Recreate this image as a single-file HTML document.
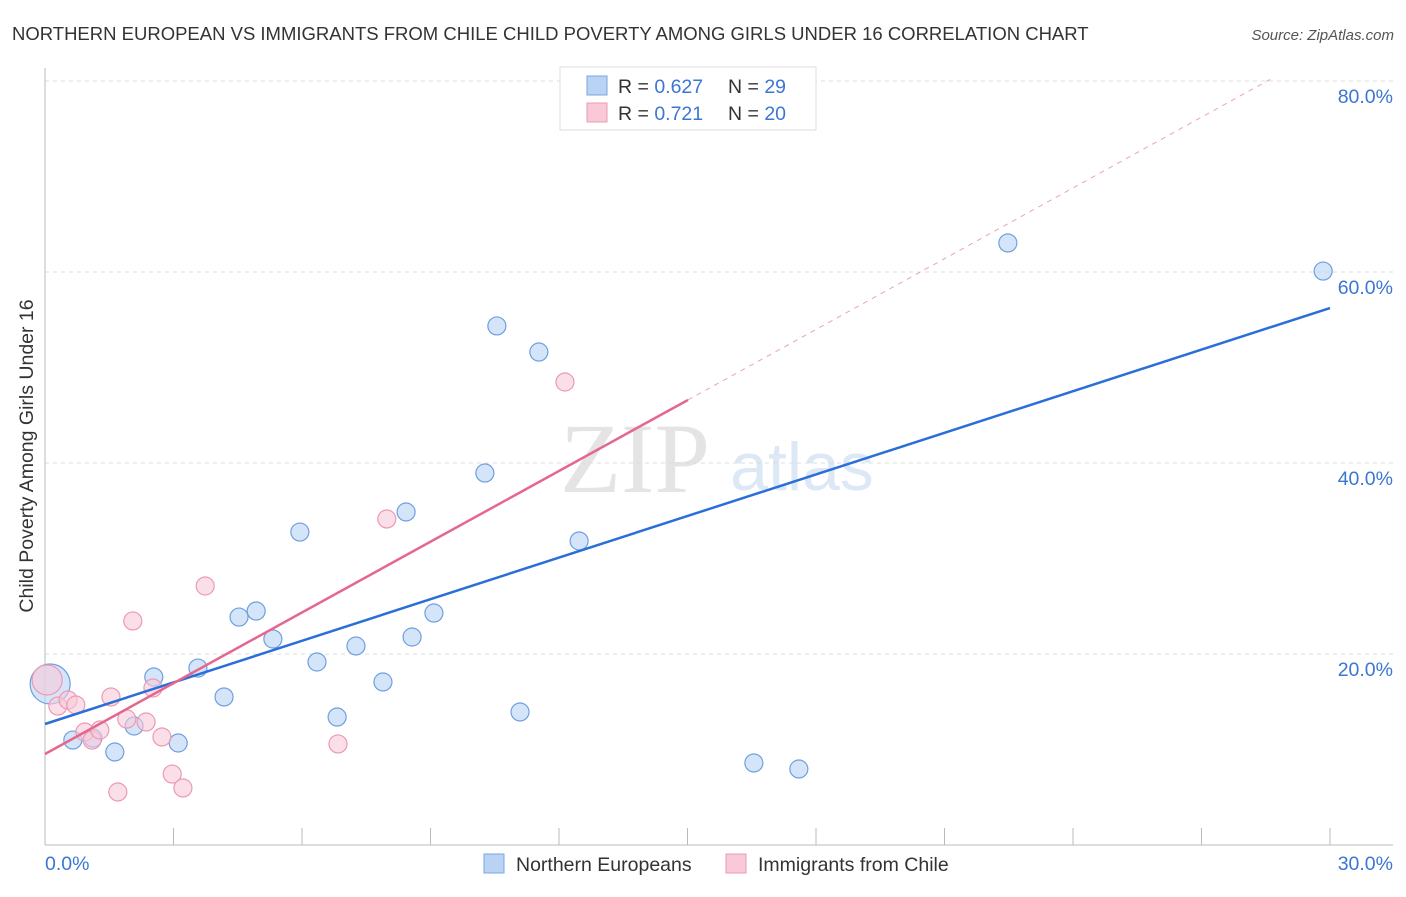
<!DOCTYPE html>
<html><head><meta charset="utf-8"><style>
body{margin:0;background:#fff;font-family:"Liberation Sans",sans-serif;}
</style></head><body>
<svg width="1406" height="892" id="chart" font-family="Liberation Sans, sans-serif">
<text x="12" y="40" font-size="18.5" fill="#333">NORTHERN EUROPEAN VS IMMIGRANTS FROM CHILE CHILD POVERTY AMONG GIRLS UNDER 16 CORRELATION CHART</text>
<text x="1394" y="40" font-size="15" fill="#555" text-anchor="end" font-style="italic">Source: ZipAtlas.com</text>
<text x="635" y="492" font-size="100" fill="#e4e4e4" style="font-family:'Liberation Serif',serif" text-anchor="middle">ZIP</text>
<text x="802" y="490" font-size="68" fill="#dce8f5" text-anchor="middle">atlas</text>
<text transform="translate(33,456) rotate(-90)" font-size="19.5" fill="#333" text-anchor="middle">Child Poverty Among Girls Under 16</text>
<g id="grid"></g><g id="axes"></g><g id="lines"></g><g id="pts"></g>
<g>
<rect x="560" y="67" width="256" height="63" fill="#fff" stroke="#ddd"/>
<rect x="587" y="76" width="20" height="19" fill="#b9d3f5" stroke="#7aa6e0"/>
<rect x="587" y="103" width="20" height="19" fill="#f9c9d8" stroke="#ec9ab4"/>
<text x="618" y="93" font-size="19.5" fill="#333">R = <tspan fill="#3b76d3">0.627</tspan></text>
<text x="728" y="93" font-size="19.5" fill="#333">N = <tspan fill="#3b76d3">29</tspan></text>
<text x="618" y="120" font-size="19.5" fill="#333">R = <tspan fill="#3b76d3"> 0.721</tspan></text>
<text x="728" y="120" font-size="19.5" fill="#333">N = <tspan fill="#3b76d3">20</tspan></text>
</g>
<g>
<rect x="484" y="854" width="20" height="19" fill="#b9d3f5" stroke="#7aa6e0"/>
<text x="516" y="871" font-size="19.5" fill="#333">Northern Europeans</text>
<rect x="726" y="854" width="20" height="19" fill="#f9c9d8" stroke="#ec9ab4"/>
<text x="758" y="871" font-size="19.5" fill="#333">Immigrants from Chile</text>
</g>
</svg>
<script>
const xTicks=[0,30];
const xTickLabels=["0.0%","30.0%"];
const yTicks=[20,40,60,80];
const yTickLabels=["20.0%","40.0%","60.0%","80.0%"];
const blueX=[0.12,0.65,1.12,1.63,2.08,2.54,3.11,3.57,4.18,4.53,4.93,5.32,5.95,6.35,6.82,7.26,7.89,8.43,8.57,9.08,10.27,10.55,11.09,11.53,12.47,16.55,17.60,22.48,29.84];
const blueY=[16.86,10.99,11.20,9.74,12.46,17.59,10.68,18.53,15.50,23.87,24.50,21.57,32.77,19.16,13.40,20.84,17.07,34.87,21.78,24.29,38.95,54.35,13.93,51.62,31.83,8.59,7.96,63.04,60.10];
const pinkX=[0.05,0.30,0.54,0.72,0.93,1.10,1.28,1.54,1.70,1.91,2.05,2.36,2.52,2.73,2.97,3.22,3.74,6.84,7.98,12.14];
const pinkY=[17.28,14.55,15.18,14.66,11.83,10.99,12.04,15.50,5.55,13.19,23.46,12.88,16.44,11.31,7.43,5.97,27.12,10.58,34.14,48.48];
const blueTrend=[12.67,56.23];
const pinkTrend=[9.53,46.6];
const pinkTrendEnd=[15.01,28.6];
const NS="http://www.w3.org/2000/svg";
const X=v=>45+v*(1330-45)/30, Y=v=>845-v*9.55;
function mk(tag,parent,attrs){const e=document.createElementNS(NS,tag);for(const k in attrs)e.setAttribute(k,attrs[k]);document.getElementById(parent).appendChild(e);return e;}
yTicks.forEach((t,i)=>{
 const l=mk('line','grid',{x1:45,x2:1393,y1:Y(t),y2:Y(t),stroke:'#ddd','stroke-dasharray':'4,4'});
 
 
 const tx=mk('text','grid',{x:1393,y:Y(t)+22,'font-size':19.5,fill:'#3b76d3','text-anchor':'end'});tx.textContent=yTickLabels[i];
 
 
});
mk('line','axes',{x1:45,x2:45,y1:68,y2:845,stroke:'#bbb'});
mk('line','axes',{x1:45,x2:1393,y1:845,y2:845,stroke:'#bbb'});
for(let i=0;i<=10;i++){const l=mk('line','axes',{x1:X(i*3),x2:X(i*3),y1:828,y2:845,stroke:'#bbb'});
 
 }
xTicks.forEach((t,i)=>{const tx=mk('text','axes',{x:i==0?X(t):1393,y:870,'font-size':19.5,fill:'#3b76d3','text-anchor':i==0?'start':'end'});tx.textContent=xTickLabels[i];
 
 });
const sp=(pinkTrend[1]-pinkTrend[0])/pinkTrendEnd[0];
let d=mk('line','lines',{x1:X(pinkTrendEnd[0]),y1:Y(pinkTrend[1]),x2:X(pinkTrendEnd[1]),y2:Y(pinkTrend[0]+sp*pinkTrendEnd[1]),stroke:'#eaa3b8','stroke-dasharray':'5,5','stroke-width':1});


function draw(xs,ys,fill,stroke,name){xs.forEach((x,i)=>{const c=mk('circle','pts',{cx:X(x),cy:Y(ys[i]),r:(i==0&&x<0.2)?(name=='northern-point'?20:15):9,fill:fill,'fill-opacity':0.6,stroke:stroke,'stroke-width':1.2});
 
 });}
draw(blueX,blueY,'#b9d3f5','#6f9fe0','northern-point');
draw(pinkX,pinkY,'#f9c9d8','#ec9ab4','chile-point');
let b=mk('line','pts',{x1:X(0),y1:Y(blueTrend[0]),x2:X(30),y2:Y(blueTrend[1]),stroke:'#2a6fd8','stroke-width':2.5});


let p=mk('line','pts',{x1:X(0),y1:Y(pinkTrend[0]),x2:X(pinkTrendEnd[0]),y2:Y(pinkTrend[1]),stroke:'#e5678f','stroke-width':2.5});


</script>
</body></html>
